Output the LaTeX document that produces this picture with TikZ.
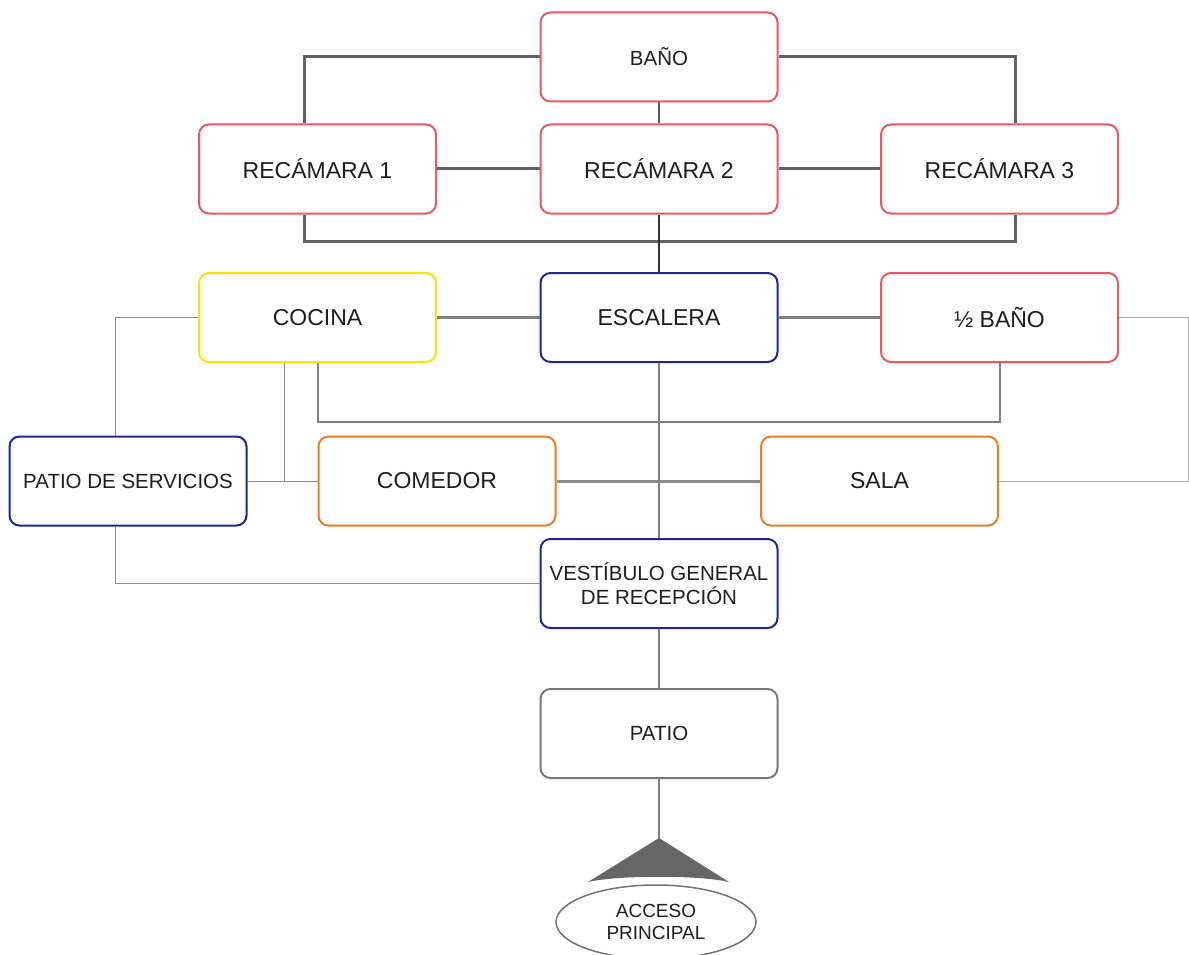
\documentclass[tikz,border=0pt]{standalone}
\usepackage{fontspec}
\setmainfont{Liberation Sans}
\usetikzlibrary{shapes.geometric}
\definecolor{roomred}{RGB}{240,85,100}
\definecolor{roomyellow}{RGB}{255,226,0}
\definecolor{roomblue}{RGB}{32,36,150}
\definecolor{roomorange}{RGB}{236,125,35}
\definecolor{roomgray}{RGB}{120,120,120}
\definecolor{txt}{RGB}{30,30,30}
\begin{document}
\begin{tikzpicture}[x=1pt,y=-1pt,
  room/.style={draw, rounded corners=10pt, line width=2pt, fill=white,
    minimum width=237pt, minimum height=89pt, inner sep=2pt, align=center,
    text=txt, font=\fontsize{23}{25}\selectfont},
  small/.style={font=\fontsize{20.5}{24}\selectfont},
  heavy/.style={draw=black!62, line width=3pt},
  medium/.style={draw=black!50, line width=2.2pt},
  light/.style={draw=black!45, line width=1pt},
  faint/.style={draw=black!32, line width=1pt}]
\useasboundingbox (0,0) rectangle (1189,955);

% rooms
\node[room, draw=roomred, small] (bano) at (659,57) {BAÑO};
\node[room, draw=roomred] (r1) at (317.5,169) {RECÁMARA 1};
\node[room, draw=roomred] (r2) at (659,169) {RECÁMARA 2};
\node[room, draw=roomred] (r3) at (999.5,169) {RECÁMARA 3};
\node[room, draw=roomyellow] (cocina) at (317.5,317.5) {COCINA};
\node[room, draw=roomblue] (escalera) at (659,317.5) {ESCALERA};
\node[room, draw=roomred] (mbano) at (999.5,317.5) {½ BAÑO};
\node[room, draw=roomblue, small] (servicios) at (128,481) {PATIO DE SERVICIOS};
\node[room, draw=roomorange] (comedor) at (437,481) {COMEDOR};
\node[room, draw=roomorange] (sala) at (879.5,481) {SALA};
\node[room, draw=roomblue, font=\fontsize{20.5}{24.5}\selectfont] (vest) at (659,583.5) {\raisebox{-3pt}{VESTÍBULO GENERAL}\\\raisebox{-3pt}{DE RECEPCIÓN}};
\node[room, draw=roomgray, small] (patio) at (659,733.5) {PATIO};
\node[ellipse, draw=black!55, line width=1.5pt, minimum width=200pt, minimum height=74pt,
  inner sep=0pt, align=center, text=txt, font=\fontsize{19}{22}\selectfont]
  (acceso) at (656,922) {ACCESO\\PRINCIPAL};

% upper floor
\draw[heavy] (bano.west) -| ([xshift=-13pt]r1.north);
\draw[heavy] (bano.east) -| ([xshift=16pt]r3.north);
\draw[draw=black!65, line width=1.5pt] (bano.south) -- (r2.north);
\draw[heavy] (r1.east) -- (r2.west);
\draw[heavy] (r2.east) -- (r3.west);
\draw[heavy] ([xshift=-13pt]r1.south) -- ++(0,27) -| ([xshift=16pt]r3.south);
\draw[draw=black!80, line width=2pt] (r2.south) -- (escalera.north);

% ground floor
\draw[medium] (cocina.east) -- (escalera.west);
\draw[medium] (escalera.east) -- (mbano.west);
\draw[light] (cocina.west) -| ([xshift=-13pt]servicios.north);
\draw[light] ([xshift=-33pt]cocina.south) |- (comedor.west);
\draw[light] (servicios.east) -- (comedor.west);
\draw[medium, line width=2pt] (cocina.south) -- ++(0,59) -| (mbano.south);
\draw[medium, line width=2pt] (escalera.south) -- (vest.north);
\draw[medium, draw=black!45, line width=3pt] (comedor.east) -- (sala.west);
\coordinate (edge) at (1188,317.5);
\draw[faint] (mbano.east) -- (edge) |- (sala.east);
\draw[light] ([xshift=-13pt]servicios.south) |- (vest.west);
\draw[medium, line width=2pt] (vest.south) -- (patio.north);

% entrance marker
\coordinate (apex) at (659,838);
\draw[medium, line width=2pt] (patio.south) -- (apex);
\fill[black!60] (apex) -- (729,882) .. controls (700,875) and (618,875) .. (588,882) -- cycle;
\end{tikzpicture}
\end{document}
